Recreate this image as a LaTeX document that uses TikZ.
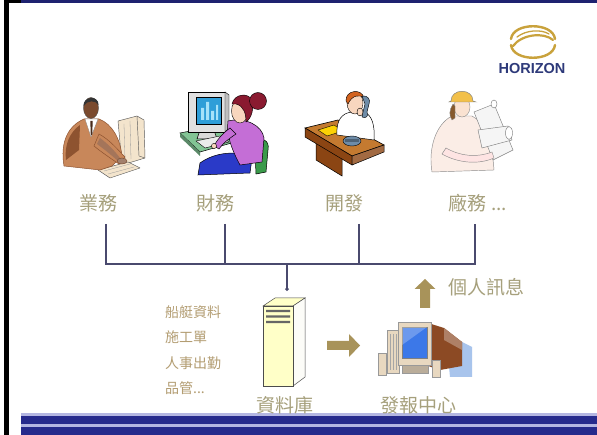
\documentclass[tikz,border=0pt]{standalone}
\usepackage{fontspec}
\newfontfamily\cjk{Noto Sans CJK TC}
\newfontfamily\logofont{Liberation Sans}
\usetikzlibrary{arrows.meta}

\definecolor{navy}{HTML}{1E2270}
\definecolor{bandnavy}{HTML}{262A8C}
\definecolor{bandlight}{HTML}{B4B6E2}
\definecolor{busc}{HTML}{4A4A6E}
\definecolor{lblc}{HTML}{A6A07C}
\definecolor{itemc}{HTML}{B39D72}
\definecolor{khaki}{HTML}{A8935A}
\definecolor{gold}{HTML}{C9A23C}
\definecolor{logonavy}{HTML}{2E3A7A}
\definecolor{beige1}{HTML}{F3E4CC}
\definecolor{suit}{HTML}{C8875A}
\definecolor{suitdark}{HTML}{8E5330}
\definecolor{skin1}{HTML}{7A4A2E}
\definecolor{skin2}{HTML}{F8D6BE}
\definecolor{hairred}{HTML}{8A1A30}
\definecolor{purple1}{HTML}{C46ED6}
\definecolor{desk1}{HTML}{82C494}
\definecolor{chair1}{HTML}{3A9A4A}
\definecolor{pants1}{HTML}{2A3AC8}
\definecolor{scr}{HTML}{2E9ED8}
\definecolor{wood1}{HTML}{C47A30}
\definecolor{wood2}{HTML}{8B4513}
\definecolor{hairor}{HTML}{D2621E}
\definecolor{phone}{HTML}{6E8CA8}
\definecolor{hat}{HTML}{F2C04A}
\definecolor{pink1}{HTML}{FBEDE6}
\definecolor{srvfill}{HTML}{FFFFC8}
\definecolor{pcbeige}{HTML}{E8D8C0}
\definecolor{pcbrown}{HTML}{8C4A24}
\definecolor{pcblue}{HTML}{3C78E8}
\definecolor{shadowblue}{HTML}{A8C4EC}

\tikzset{
  bus/.style={draw=busc, line width=1.6pt},
  lbl/.style={font=\cjk\fontsize{19}{19}\selectfont, text=lblc, inner sep=0pt},
  item/.style={font=\cjk\fontsize{14}{14}\selectfont, text=itemc, anchor=west, inner sep=0pt},
  sketch/.style={draw=black!65, line width=0.45pt, line join=round},
  bigarrow/.style={fill=khaki},
}

\begin{document}
\begin{tikzpicture}[x=1pt,y=-1pt]
\useasboundingbox (0,0) rectangle (597,435);
\fill[white] (0,0) rectangle (597,435);

% ---------- slide frame ----------
\fill[black] (4,0) rectangle (9,435);
\fill[black] (9,0) rectangle (21,3);
\fill[navy] (21,0) rectangle (597,3);
\fill[bandlight] (21,412.5) rectangle (597,416);
\fill[bandnavy] (21,416) rectangle (597,424);
\fill[bandlight] (21,424) rectangle (597,427);
\fill[bandnavy] (21,427) rectangle (597,435);

% ---------- logo ----------
\begin{scope}[gold, line cap=round]
  \draw[line width=2.4pt] (511,39) .. controls (513,22) and (553,22) .. (555,39);
  \draw[line width=2.4pt] (511,45) .. controls (513,62) and (553,62) .. (555,45);
  \draw[line width=2.2pt] (513,46) .. controls (522,34) and (544,32) .. (553,40);
  \draw[line width=1.3pt] (517,37) .. controls (526,30) and (541,29) .. (549,34);
\end{scope}
\node[font=\logofont\bfseries\fontsize{14.5}{14.5}\selectfont, text=logonavy, inner sep=0pt] (logo) at (532,69) {HORIZON};

% ---------- businessman at a terminal ----------
\filldraw[fill=beige1, sketch] (118,121) -- (137,116) -- (144,120) -- (145,158) -- (122,165) -- cycle;
\draw[sketch] (137,116) -- (139,156) -- (145,158);
\draw[black!40, line width=0.3pt] (124,124) -- (125,160) (130,121) -- (131,159);
\filldraw[fill=beige1, sketch] (98,170) -- (128,162) -- (140,168) -- (110,178) -- cycle;
\draw[black!40, line width=0.3pt] (104,171) -- (130,164) (108,174) -- (134,167);
\filldraw[fill=suit, draw=suitdark, line width=0.5pt] (64,166) .. controls (60,142) and (68,126) .. (84,119) -- (99,119) .. controls (112,124) and (120,138) .. (122,156) -- (112,166) -- (100,170) -- cycle;
\fill[suitdark] (66,160) .. controls (64,145) and (70,132) .. (80,125) -- (79,150) -- cycle;
\filldraw[fill=suit, draw=suitdark, line width=0.5pt] (99,134) .. controls (110,140) and (118,150) .. (125,157) -- (119,164) .. controls (110,158) and (100,151) .. (94,146) -- cycle;
\fill[suitdark!80] (100,138) .. controls (108,144) and (114,150) .. (120,158) -- (118,161) .. controls (110,154) and (104,149) .. (97,144) -- cycle;
\filldraw[fill=skin1!70, draw=skin1] (122,161) ellipse (5 and 3);
\filldraw[fill=white, draw=black!50, line width=0.3pt] (85,119) -- (98,119) -- (91,137) -- cycle;
\fill[skin1!60!black] (90.3,121) -- (92.7,121) -- (92.2,135) -- (90.8,135) -- cycle;
\filldraw[fill=skin1, draw=black!70, line width=0.4pt] (91,108) ellipse (7.5 and 10.5);
\fill[black!80] (83.5,106) .. controls (83,96) and (99,95) .. (98.5,105) .. controls (96,100) and (87,100) .. cycle;

% ---------- office worker at a PC ----------
\filldraw[fill=desk1, draw=black, line width=0.5pt] (180,133) -- (222,125) -- (242,140) -- (200,152) -- cycle;
\fill[desk1!70!black] (180,133) -- (200,152) -- (200,156) -- (180,137) -- cycle;
\filldraw[fill=black!15, draw=black, line width=0.5pt] (200,130) -- (214,130) -- (217,139) -- (197,139) -- cycle;
\filldraw[fill=black!12, draw=black, line width=0.6pt] (188,92) -- (225,92) -- (225,132) -- (188,132) -- cycle;
\filldraw[fill=black!25, draw=black, line width=0.4pt] (225,92) -- (229,95) -- (229,128) -- (225,132) -- cycle;
\filldraw[fill=scr, draw=black, line width=0.4pt] (196,97) rectangle (221,124);
\fill[cyan!35] (201,120) rectangle (204,108) (206,120) rectangle (209,102) (211,120) rectangle (214,111) (216,120) rectangle (218,105);
\filldraw[fill=black!8, draw=black, line width=0.4pt] (196,141) -- (220,136) -- (229,142) -- (205,148) -- cycle;
\filldraw[fill=chair1, draw=black, line width=0.5pt] (250,142) .. controls (262,136) and (270,140) .. (268,150) -- (266,172) -- (256,174) -- (255,152) -- cycle;
\filldraw[fill=pants1, draw=black, line width=0.5pt] (200,163) .. controls (215,152) and (238,150) .. (252,158) -- (250,173) -- (198,175) -- cycle;
\filldraw[fill=purple1, draw=black, line width=0.5pt] (228,121) .. controls (245,117) and (262,125) .. (264,138) -- (262,162) -- (240,165) .. controls (232,150) and (226,135) .. (228,121) -- cycle;
\filldraw[fill=purple1, draw=black, line width=0.5pt] (230,128) .. controls (222,134) and (217,140) .. (214,146) -- (219,149) .. controls (224,142) and (230,138) .. (236,134) -- cycle;
\filldraw[fill=skin2, draw=black, line width=0.4pt] (214,146) circle (2.6);
\filldraw[fill=skin2, draw=black, line width=0.4pt] (240,111) ellipse (8.5 and 12);
\filldraw[fill=hairred, draw=black, line width=0.4pt] (232,104) .. controls (234,94) and (248,92) .. (252,100) .. controls (254,108) and (252,118) .. (246,122) .. controls (246,114) and (244,106) .. (236,104) -- cycle;
\filldraw[fill=hairred, draw=black, line width=0.4pt] (258,101) circle (8.5);

% ---------- manager on the telephone ----------
\filldraw[fill=wood2, draw=black, line width=0.5pt] (316,140) -- (342,155) -- (342,176) -- (316,160) -- cycle;
\filldraw[fill=wood1, draw=black, line width=0.6pt] (305,128) -- (338,120) -- (384,145) -- (352,156) -- cycle;
\filldraw[fill=wood2, draw=black, line width=0.5pt] (305,128) -- (352,156) -- (352,165) -- (305,137) -- cycle;
\filldraw[fill=wood2!80, draw=black, line width=0.5pt] (352,156) -- (384,145) -- (384,152) -- (352,165) -- cycle;
\filldraw[fill=yellow!70!orange, draw=black, line width=0.4pt] (318,130) -- (334,125) -- (343,131) -- (327,136) -- cycle;
\filldraw[fill=white, draw=black, line width=0.5pt] (337,135) .. controls (336,120) and (342,113) .. (352,112) -- (364,112) .. controls (372,115) and (375,125) .. (374,140) -- cycle;
\filldraw[fill=phone, draw=black, line width=0.4pt] (352,141) ellipse (9 and 5);
\fill[phone!70!black] (345,139) rectangle (359,142);
\filldraw[fill=skin2, draw=black, line width=0.4pt] (355,103) ellipse (8 and 11);
\filldraw[fill=hairor, draw=black, line width=0.4pt] (346,101) .. controls (345,90) and (362,88) .. (364,98) .. controls (360,94) and (352,95) .. (348,104) -- cycle;
\filldraw[fill=phone, draw=black, line width=0.4pt] (362,96) .. controls (368,95) and (371,100) .. (369,104) -- (367,112) .. controls (369,116) and (366,119) .. (362,117) -- (363,112) -- (365,104) -- cycle;
\filldraw[fill=skin2, draw=black, line width=0.4pt] (360,112) ellipse (3 and 4);

% ---------- engineer with drawings ----------
\filldraw[fill=pink1, draw=black!45, line width=0.45pt] (432,172) .. controls (428,148) and (436,124) .. (452,116) -- (472,116) .. controls (484,122) and (492,140) .. (494,170) -- cycle;
\filldraw[fill=white!96!black, draw=black!50, line width=0.45pt] (474,112) -- (494,104) -- (513,150) -- (493,160) -- cycle;
\filldraw[fill=white, draw=black!50, line width=0.45pt] (494,104) ellipse (3 and 4);
\filldraw[fill=white!96!black, draw=black!50, line width=0.45pt] (478,130) -- (508,126) -- (512,140) -- (482,148) -- cycle;
\filldraw[fill=white, draw=black!50, line width=0.45pt] (509,133) ellipse (3.5 and 6.5);
\filldraw[fill=pink1!70!red!30, draw=black!45, line width=0.45pt] (446,148) .. controls (460,156) and (476,158) .. (492,152) -- (494,158) .. controls (478,165) and (458,163) .. (442,154) -- cycle;
\filldraw[fill=skin2!70!white, draw=black!45, line width=0.4pt] (462,107) ellipse (8 and 10);
\filldraw[fill=brown!70!black, draw=black!45, line width=0.4pt] (453,104) .. controls (449,110) and (449,116) .. (452,120) -- (455,118) -- (455,106) -- cycle;
\filldraw[fill=hat, draw=black!50, line width=0.45pt] (451,101) .. controls (451,88) and (473,88) .. (473,101) -- (476,102) -- (449,102) -- cycle;

% ---------- department labels ----------
\node[lbl] (l1) at (98,203)  {業務};
\node[lbl] (l2) at (215,203) {財務};
\node[lbl] (l3) at (344,203) {開發};
\node[lbl] (l4) at (478,203) {廠務 ...};

% ---------- collection bus ----------
\coordinate (t1) at (106,224);
\coordinate (t2) at (225,224);
\coordinate (t3) at (359,224);
\coordinate (t4) at (475,224);
\coordinate (b1) at (106,264);
\coordinate (b2) at (225,264);
\coordinate (b3) at (359,264);
\coordinate (b4) at (475,264);
\coordinate (bc) at (287,264);
\draw[bus, line join=miter] (t1) -- (b1) -- (b4) -- (t4);
\draw[bus] (t2) -- (b2);
\draw[bus] (t3) -- (b3);

% ---------- database server ----------
\node[inner sep=0pt, minimum width=42pt, minimum height=88pt] (srv) at (284,342) {};
\draw[bus, line width=1.3pt, -{Circle[length=3.5pt]}, shorten >=7pt] (bc) -- (bc |- srv.north);
\filldraw[fill=srvfill, draw=black!70, line width=0.5pt] (263,306) -- (275,298) -- (305,298) -- (293,306) -- cycle;
\filldraw[fill=srvfill!85!black!8, draw=black!70, line width=0.5pt] (293,306) -- (305,298) -- (305,377) -- (293,386) -- cycle;
\filldraw[fill=srvfill, draw=black!70, line width=0.5pt] (263,306) rectangle (293,386);
\fill[black!60] (266,310) rectangle (290,312.2) (266,315.5) rectangle (290,317.7) (266,321) rectangle (290,323.2);

\node[item] (i1) at (165,312) {船艇資料};
\node[item] (i2) at (165,337) {施工單};
\node[item] (i3) at (165,363) {人事出勤};
\node[item] (i4) at (165,388) {品管...};

\node[lbl] (dbl) at (285,405) {資料庫};

% ---------- arrow to the dispatch centre ----------
\fill[bigarrow] (327,341) -- (349,341) -- (349,334) -- (360,345.5) -- (349,357) -- (349,350) -- (327,350) -- cycle;

% ---------- dispatch centre PC ----------
\fill[shadowblue] (446,334) -- (472,347) -- (472,377) -- (450,377) -- cycle;
\fill[pcbrown] (428,323) -- (444,328) -- (462,342) -- (462,366) -- (440,370) -- (428,366) -- cycle;
\fill[pcbrown!70!white] (444,328) -- (462,342) -- (462,350) -- (444,340) -- cycle;
\filldraw[fill=pcbeige, draw=black!40, line width=0.3pt] (387,330) rectangle (399,373);
\draw[black!35, line width=0.3pt] (390,334) -- (390,370) (393,334) -- (393,370) (396,334) -- (396,370);
\filldraw[fill=pcbeige, draw=black!40, line width=0.3pt] (378,353) rectangle (386,375);
\filldraw[fill=pcbeige!80!black, draw=black!40, line width=0.3pt] (402,364) rectangle (428,373);
\filldraw[fill=pcbeige, draw=black!40, line width=0.3pt] (398,322) rectangle (431,365);
\filldraw[fill=pcblue, draw=black!50, line width=0.3pt] (402,327) rectangle (427,358);
\fill[white, opacity=0.25] (402,327) -- (427,327) -- (402,345) -- cycle;
\filldraw[fill=pcbeige, draw=black!40, line width=0.3pt] (432,360) rectangle (440,377);

\node[lbl] (pcl) at (418,405) {發報中心};

% ---------- outgoing personal message ----------
\fill[bigarrow] (420,308) -- (420,289) -- (414.5,289) -- (425,279) -- (435.5,289) -- (430,289) -- (430,308) -- cycle;
\node[lbl] (msg) at (486,287) {個人訊息};
\end{tikzpicture}
\end{document}
